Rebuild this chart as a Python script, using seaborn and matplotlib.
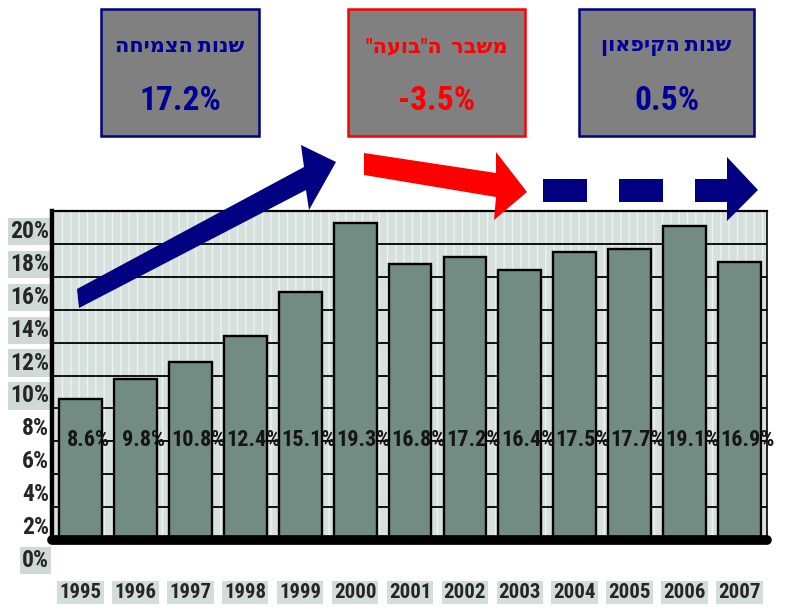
import matplotlib
matplotlib.use("Agg")
import matplotlib.pyplot as plt
import matplotlib.patches as mpatches
import matplotlib.transforms as mtransforms
from matplotlib import font_manager as fm
import seaborn as sns
import pandas as pd

years = ["1995", "1996", "1997", "1998", "1999", "2000", "2001",
         "2002", "2003", "2004", "2005", "2006", "2007"]
growth = [8.6, 9.8, 10.8, 12.4, 15.1, 19.3, 16.8, 17.2, 16.4, 17.5, 17.7, 19.1, 16.9]
yticks = [0, 2, 4, 6, 8, 10, 12, 14, 16, 18, 20]

# period boxes (Hebrew written in logical order, reversed for LTR drawing)
period_titles = ["שנות הצמיחה", 'משבר  ה"בועה"', "שנות הקיפאון"]
period_values = ["17.2%", "-3.5%", "0.5%"]
period_colors = ["#000099", "#ff0000", "#000099"]
period_edges = ["#000080", "#ff0000", "#000080"]

sns.set_theme(style="white")

# look for a narrow font, like the Arial Narrow of the original
entries = fm.fontManager.ttflist
names = {f.name for f in entries}
narrow = None
stretch = "normal"
for p in ["Liberation Sans Narrow", "Roboto Condensed", "Open Sans Condensed",
          "Noto Sans Condensed", "DejaVu Sans Condensed", "Arial Narrow"]:
    if p in names:
        narrow = p
        break
if narrow is None:
    for f in entries:
        if f.stretch in ("condensed", "semi-condensed", "extra-condensed") and \
                f.name in ("DejaVu Sans", "Noto Sans", "Roboto", "Open Sans", "Liberation Sans"):
            narrow = f.name
            stretch = f.stretch
            break
if narrow is None:
    narrow = "DejaVu Sans"
plt.rcParams["font.family"] = [narrow, "DejaVu Sans"]
plt.rcParams["font.stretch"] = stretch
plt.rcParams["font.weight"] = "bold"

W, H = 785, 613
fig = plt.figure(figsize=(W / 100, H / 100), dpi=100)
fig.patch.set_facecolor("white")

def px(x, y):
    return (x / W, 1 - y / H)

ax = fig.add_axes([52 / W, 1 - 540 / H, (767 - 52) / W, (540 - 211) / H])

df = pd.DataFrame({"year": years, "growth": growth})
sns.barplot(data=df, x="year", y="growth", color="#728c83", saturation=1,
            width=0.78, edgecolor="black", linewidth=1.7, ax=ax, zorder=3)

# textured background of the plot area
ax.patch.set_facecolor("#d6e0dc")
bg = mpatches.Rectangle((0, 0), 1, 1, transform=ax.transAxes, facecolor="none",
                        edgecolor="#eef3f1", hatch="||", linewidth=0, zorder=0)
ax.add_patch(bg)

ax.set_xlim(-0.52, 12.5)
ax.set_ylim(0, 20)
ax.set_yticks(yticks)
ax.set_yticklabels([f"{v}%" for v in yticks])
ax.yaxis.grid(True, color="black", linewidth=1.3, zorder=1)
ax.set_axisbelow(True)
ax.set_xlabel("")
ax.set_ylabel("")

for side in ["top", "right"]:
    ax.spines[side].set_visible(True)
    ax.spines[side].set_color("black")
ax.spines["top"].set_linewidth(1.6)
ax.spines["right"].set_linewidth(1.2)
ax.spines["left"].set_color("black")
ax.spines["left"].set_linewidth(3.2)
ax.spines["bottom"].set_visible(False)
ax.axhline(0, color="black", linewidth=7, zorder=5, clip_on=False)

# y labels sit lower than the gridlines in the original
ax.tick_params(axis="y", length=0, pad=2, labelsize=17)
shift = mtransforms.ScaledTranslation(0, -0.18, fig.dpi_scale_trans)
for v, lab in zip(yticks, ax.get_yticklabels()):
    lab.set_transform(lab.get_transform() + shift)
    lab.set_fontweight("bold")
    if v >= 10 or v == 0:
        lab.set_bbox(dict(facecolor="#cfdad6", edgecolor="none", pad=1.5))

ax.tick_params(axis="x", length=0, pad=31, labelsize=15)
for lab in ax.get_xticklabels():
    lab.set_fontweight("bold")
    lab.set_bbox(dict(facecolor="#d3ddd9", edgecolor="none", pad=1.5))

# value labels inside the bars
for i, v in enumerate(growth):
    ax.text(i + 0.15, 6.1, f"{v}%", ha="center", va="center", fontsize=16,
            fontweight="bold", color="#151515", zorder=6)

# period boxes
boxes = [(101, 259), (348, 525), (579, 754)]
for (x0, x1), t, val, c, ec in zip(boxes, period_titles, period_values,
                                   period_colors, period_edges):
    x0f, y1f = px(x0, 136)
    x1f, y0f = px(x1, 9)
    rect = mpatches.Rectangle((x0f, y1f), x1f - x0f, y0f - y1f,
                              transform=fig.transFigure, facecolor="#808080",
                              edgecolor=ec, linewidth=1.8)
    fig.patches.append(rect)
    cx = (x0 + x1) / 2
    fig.text(*px(cx, 47), t[::-1], ha="center", va="center", fontsize=15,
             fontweight="bold", color=c)
    fig.text(*px(cx, 101), val, ha="center", va="center", fontsize=24,
             fontweight="bold", color=c)

# arrows
arrows = [
    ([(77, 289), (304, 167), (301, 145), (336, 162), (309, 210), (306, 190), (79, 308)], "#000080"),
    ([(364, 153), (496, 173), (496, 152), (527, 192), (494, 220), (496, 197), (364, 175)], "#ff0000"),
    ([(543, 179), (587, 179), (587, 202), (543, 202)], "#000080"),
    ([(619, 179), (663, 179), (663, 202), (619, 202)], "#000080"),
    ([(695, 179), (727, 179), (727, 157), (758, 190), (727, 221), (727, 202), (695, 202)], "#000080"),
]
for pts, col in arrows:
    poly = mpatches.Polygon([px(x, y) for x, y in pts], closed=True,
                            transform=fig.transFigure, facecolor=col,
                            edgecolor="none", zorder=10)
    fig.patches.append(poly)

fig.savefig("out.png", dpi=100)
